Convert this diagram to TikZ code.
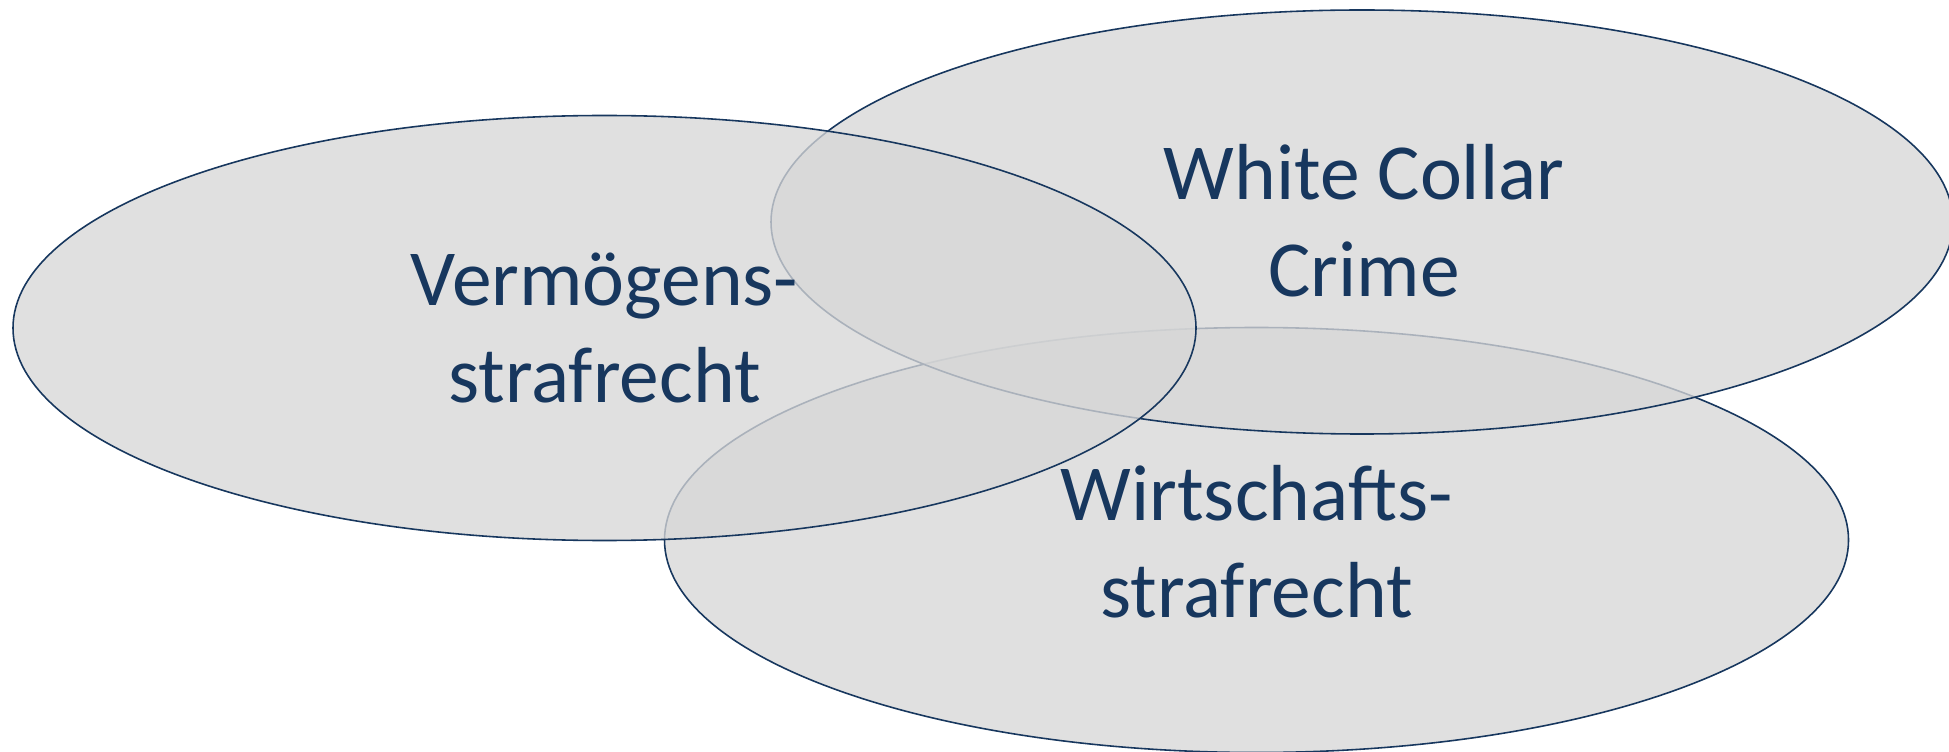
\documentclass[tikz,border=0pt]{standalone}
\usepackage{fontspec}
\setmainfont{Carlito}
\definecolor{navy}{RGB}{23,55,94}
\definecolor{setgray}{RGB}{215,215,215}

\begin{document}
\begin{tikzpicture}[
    x=0.01cm, y=-0.01cm,
    setarea/.style={draw=navy, line width=0.45pt, fill=setgray, fill opacity=0.77},
    lbl/.style={text=navy, align=center, inner sep=0pt, font=\fontsize{22.6}{27.6}\selectfont},
]
\useasboundingbox (0,0) rectangle (1949,752);
\fill[white] (0,0) rectangle (1949,752);
% === Sets (lowest first) ===
\draw[setarea] (1256.5,540) ellipse [x radius=592, y radius=212.5];
\draw[setarea] (1362,222) ellipse [x radius=591, y radius=212];
\draw[setarea] (604.5,328) ellipse [x radius=591.5, y radius=212.5];
% === Labels ===
\node[lbl] (vermoegen) at (604.5,328) {Vermögens-\\strafrecht};
\node[lbl] (wcc) at (1364,221) {White Collar\\Crime};
\node[lbl] (wirtschaft) at (1256.5,542) {Wirtschafts-\\strafrecht};
\end{tikzpicture}
\end{document}
